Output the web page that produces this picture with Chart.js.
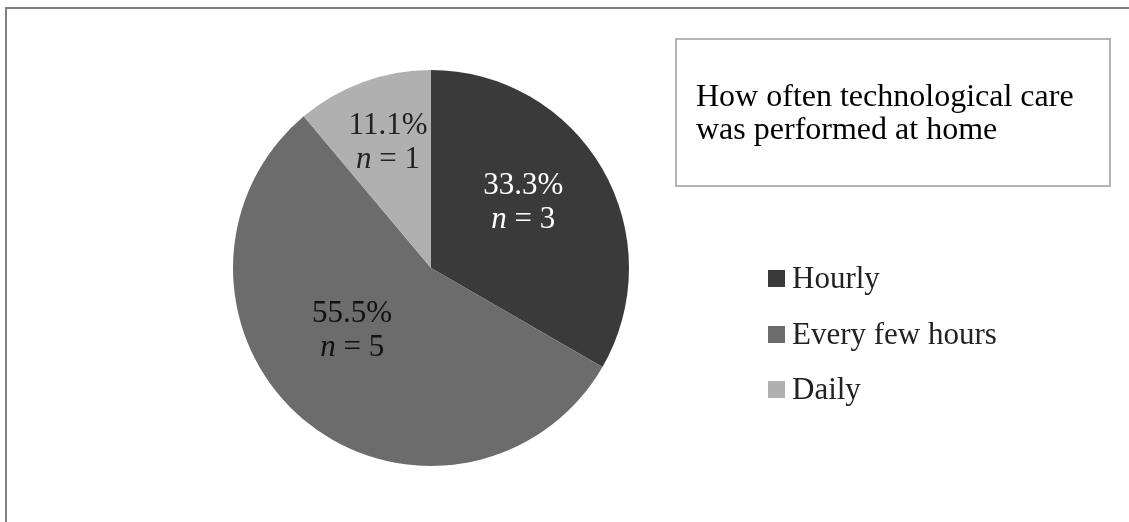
<!DOCTYPE html>
<html>
<head>
<meta charset="utf-8">
<script src="https://cdn.jsdelivr.net/npm/chart.js@4"></script>
<style>
    body { margin: 0; background: #fff; }
    #wrap { position: relative; width: 1129px; height: 522px; overflow: hidden; }
    #frame { position: absolute; left: 5px; top: 7px; width: 1200px; height: 600px;
             border-left: 2px solid #808080; border-top: 2px solid #808080; }
    #chart { position: absolute; left: 0; top: 0; }
</style>
</head>
<body>
<div id="wrap">
    <div id="frame"></div>
    <canvas id="chart" width="1129" height="522"></canvas>
</div>
<script>
// Data
const categories = ['Hourly', 'Every few hours', 'Daily'];
const counts = [3, 5, 1];
const percentLabels = ['33.3%', '55.5%', '11.1%'];
const sliceColors = ['#3a3a3a', '#6c6c6c', '#b0b0b0'];
const labelColors = ['#ffffff', '#111111', '#222222'];
const chartTitle = ['How often technological care', 'was performed at home'];

// Label placement inside slices: nudge from mid angle (deg) and radius fraction
const labelNudge = [-6.5, 12.8, 1.4];
const labelRadius = [0.58, 0.50, 0.68];

const serif = '"Liberation Serif", "Times New Roman", serif';

// Draws the n labels, the title box and the legend
const decorPlugin = {
    id: 'decor',
    afterDatasetsDraw(chart) {
        const ctx = chart.ctx;
        const meta = chart.getDatasetMeta(0);
        ctx.save();
        ctx.textAlign = 'center';
        ctx.textBaseline = 'alphabetic';
        meta.data.forEach((arc, i) => {
            const p = arc.getProps(['x', 'y', 'startAngle', 'endAngle', 'outerRadius'], true);
            const mid = (p.startAngle + p.endAngle) / 2 + labelNudge[i] * Math.PI / 180;
            const r = p.outerRadius * labelRadius[i];
            const cx = p.x + Math.cos(mid) * r;
            const cy = p.y + Math.sin(mid) * r;
            ctx.fillStyle = labelColors[i];
            ctx.font = '31px ' + serif;
            ctx.fillText(percentLabels[i], cx, cy - 6);
            // "n = k" with italic n
            const nPart = 'n';
            const rest = ' = ' + counts[i];
            ctx.font = 'italic 31px ' + serif;
            const w1 = ctx.measureText(nPart).width;
            ctx.font = '31px ' + serif;
            const w2 = ctx.measureText(rest).width;
            const x0 = cx - (w1 + w2) / 2;
            ctx.textAlign = 'left';
            ctx.font = 'italic 31px ' + serif;
            ctx.fillText(nPart, x0, cy + 28);
            ctx.font = '31px ' + serif;
            ctx.fillText(rest, x0 + w1, cy + 28);
            ctx.textAlign = 'center';
        });

        // Title box
        ctx.strokeStyle = '#b4b4b4';
        ctx.lineWidth = 2;
        ctx.strokeRect(676, 39, 434, 147);
        ctx.fillStyle = '#000';
        ctx.textAlign = 'left';
        ctx.font = '32px ' + serif;
        ctx.fillText(chartTitle[0], 696, 106);
        ctx.fillText(chartTitle[1], 696, 139);

        // Legend
        const legendBase = [288, 344, 399];
        categories.forEach((c, i) => {
            ctx.fillStyle = sliceColors[i];
            ctx.fillRect(768, legendBase[i] - 18, 17, 17);
            ctx.fillStyle = '#222';
            ctx.font = '31px ' + serif;
            ctx.fillText(c, 792, legendBase[i]);
        });
        ctx.restore();
    }
};

new Chart(document.getElementById('chart'), {
    type: 'pie',
    data: {
        labels: categories,
        datasets: [{
            data: counts,
            backgroundColor: sliceColors,
            borderWidth: 0
        }]
    },
    options: {
        responsive: false,
        animation: false,
        layout: { padding: { left: 233, right: 500, top: 70, bottom: 56 } },
        plugins: {
            legend: { display: false },
            tooltip: { enabled: false }
        }
    },
    plugins: [decorPlugin]
});
</script>
</body>
</html>
